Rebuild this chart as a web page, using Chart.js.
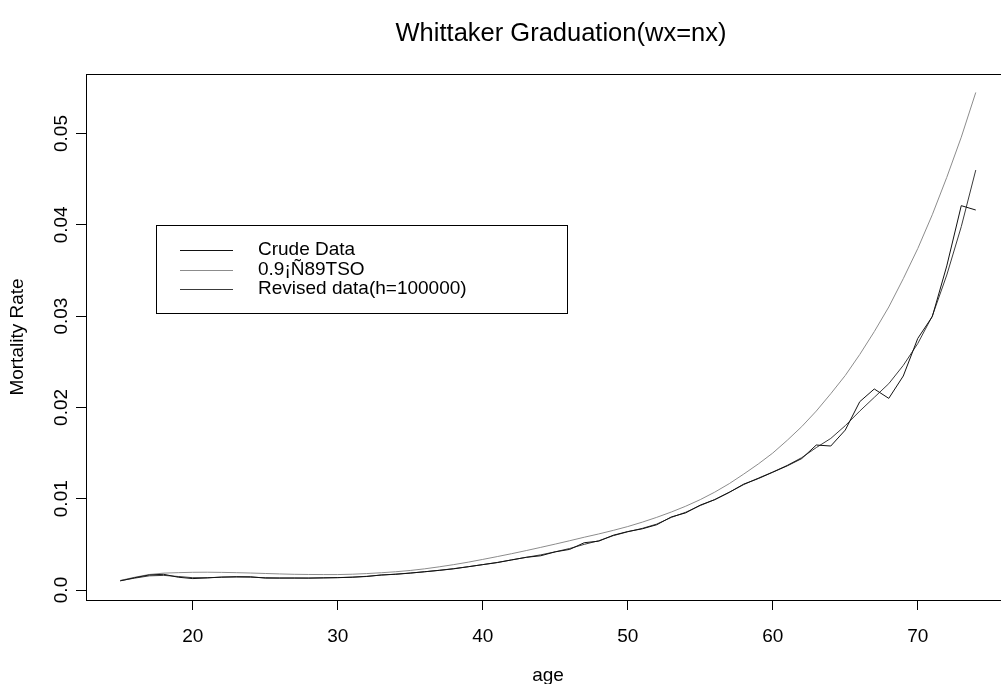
<!DOCTYPE html>
<html>
<head>
<meta charset="utf-8">
<title>Whittaker Graduation</title>
<script src="https://cdn.jsdelivr.net/npm/chart.js@4/dist/chart.umd.min.js"></script>
<style>
  html, body { margin: 0; padding: 0; background: #fff; overflow: hidden; width: 1001px; height: 684px; }
  canvas { display: block; }
</style>
</head>
<body>
<canvas id="chart" width="1011" height="684" style="width:1011px;height:684px"></canvas>
<script>
// Ages 15..74 and the three mortality series
const ages = [15,16,17,18,19,20,21,22,23,24,25,26,27,28,29,30,31,32,33,34,35,36,37,38,39,40,41,42,43,44,
              45,46,47,48,49,50,51,52,53,54,55,56,57,58,59,60,61,62,63,64,65,66,67,68,69,70,71,72,73,74];

const crudeRates = [0.00100,0.00135,0.00165,0.00172,0.00140,0.00125,0.00132,0.00142,0.00146,0.00145,
                    0.00130,0.00130,0.00131,0.00130,0.00133,0.00135,0.00140,0.00148,0.00165,0.00172,
                    0.00185,0.00200,0.00215,0.00232,0.00255,0.00278,0.00300,0.00330,0.00358,0.00375,
                    0.00418,0.00445,0.00518,0.00535,0.00600,0.00640,0.00670,0.00715,0.00800,0.00845,
                    0.00930,0.00990,0.01070,0.01160,0.01220,0.01290,0.01360,0.01440,0.01588,0.01577,
                    0.01752,0.02063,0.02202,0.02099,0.02344,0.02756,0.02994,0.03550,0.04210,0.04162];

const tsoRates = [0.00105,0.00140,0.00170,0.00185,0.00190,0.00194,0.00195,0.00193,0.00190,0.00186,
                  0.00181,0.00176,0.00172,0.00170,0.00169,0.00169,0.00173,0.00180,0.00189,0.00200,
                  0.00214,0.00232,0.00254,0.00278,0.00305,0.00335,0.00366,0.00398,0.00432,0.00467,
                  0.00503,0.00540,0.00578,0.00614,0.00653,0.00695,0.00743,0.00796,0.00854,0.00918,
                  0.00990,0.01072,0.01165,0.01270,0.01380,0.01500,0.01640,0.01790,0.01960,0.02150,
                  0.02350,0.02580,0.02830,0.03100,0.03410,0.03740,0.04110,0.04520,0.04960,0.05450];

const revisedRates = [0.00102,0.00130,0.00155,0.00160,0.00148,0.00135,0.00135,0.00140,0.00142,0.00140,
                      0.00135,0.00132,0.00131,0.00131,0.00133,0.00136,0.00141,0.00150,0.00163,0.00174,
                      0.00186,0.00200,0.00216,0.00234,0.00255,0.00278,0.00302,0.00330,0.00358,0.00385,
                      0.00418,0.00455,0.00500,0.00540,0.00595,0.00638,0.00675,0.00722,0.00795,0.00852,
                      0.00925,0.00990,0.01070,0.01155,0.01225,0.01292,0.01365,0.01450,0.01560,0.01660,
                      0.01800,0.01960,0.02110,0.02260,0.02460,0.02700,0.03000,0.03450,0.03980,0.04600];

const xTicks = [20, 30, 40, 50, 60, 70];
const xTickLabels = ["20", "30", "40", "50", "60", "70"];
const yTicks = [0, 0.01, 0.02, 0.03, 0.04, 0.05];
const yTickLabels = ["0.0", "0.01", "0.02", "0.03", "0.04", "0.05"];

const seriesNames = ["Crude Data", "0.9\u00A1\u00D189TSO", "Revised data(h=100000)"];
const seriesColors = ["#111111", "#8c8c8c", "#3a3a3a"];

const titleText = "Whittaker Graduation(wx=nx)";
const xTitle = "age";
const yTitle = "Mortality Rate";

const FONT = '"Liberation Sans", Arial, Helvetica, sans-serif';

function toPoints(values) {
  return ages.map((a, i) => ({ x: a, y: values[i] }));
}

// Frame, rotated y labels, axis titles, title and legend box in base-graphics style
const decorations = {
  id: 'decorations',
  afterDraw(chart) {
    const { ctx, chartArea: a, scales: { x, y } } = chart;
    ctx.save();
    ctx.strokeStyle = '#000';
    ctx.lineWidth = 1;
    ctx.strokeRect(Math.round(a.left) + 0.5, Math.round(a.top) + 0.5,
                   Math.round(a.right - a.left), Math.round(a.bottom - a.top));

    ctx.fillStyle = '#000';
    ctx.font = `19px ${FONT}`;
    ctx.textAlign = 'center';
    ctx.textBaseline = 'middle';
    xTicks.forEach((v, i) => ctx.fillText(xTickLabels[i], x.getPixelForValue(v), a.bottom + 37));
    yTicks.forEach((v, i) => {
      ctx.save();
      ctx.translate(a.left - 24, y.getPixelForValue(v));
      ctx.rotate(-Math.PI / 2);
      ctx.fillText(yTickLabels[i], 0, 0);
      ctx.restore();
    });

    // axis titles
    ctx.fillText(xTitle, (a.left + a.right) / 2, a.bottom + 76);
    ctx.save();
    ctx.translate(18, (a.top + a.bottom) / 2);
    ctx.rotate(-Math.PI / 2);
    ctx.fillText(yTitle, 0, 0);
    ctx.restore();

    // main title
    ctx.font = `25.5px ${FONT}`;
    ctx.fillText(titleText, 561, 34);

    // legend
    const lx = a.left + 70, ly = a.top + 151, lw = 411, lh = 88;
    ctx.strokeRect(lx + 0.5, ly + 0.5, lw, lh);
    ctx.font = `19px ${FONT}`;
    ctx.textAlign = 'left';
    chart.data.datasets.forEach((ds, i) => {
      const ry = ly + 25 + i * 19.5;
      ctx.strokeStyle = ds.borderColor;
      ctx.lineWidth = 1;
      ctx.beginPath();
      ctx.moveTo(lx + 24, Math.round(ry) + 0.5);
      ctx.lineTo(lx + 77, Math.round(ry) + 0.5);
      ctx.stroke();
      ctx.fillText(ds.label, lx + 102, ry);
    });
    ctx.restore();
  }
};

new Chart(document.getElementById('chart'), {
  type: 'line',
  data: {
    datasets: [
      { label: seriesNames[0], data: toPoints(crudeRates), borderColor: seriesColors[0] },
      { label: seriesNames[1], data: toPoints(tsoRates), borderColor: seriesColors[1] },
      { label: seriesNames[2], data: toPoints(revisedRates), borderColor: seriesColors[2] }
    ]
  },
  options: {
    responsive: false,
    animation: false,
    devicePixelRatio: 1,
    layout: { padding: { left: 0, top: 74, right: 1, bottom: 0 } },
    elements: {
      point: { radius: 0 },
      line: { borderWidth: 1, tension: 0, fill: false }
    },
    plugins: { legend: { display: false }, title: { display: false }, tooltip: { enabled: false } },
    scales: {
      x: {
        type: 'linear',
        min: 12.64, max: 76.36,
        afterBuildTicks(scale) { scale.ticks = xTicks.map(v => ({ value: v })); },
        afterFit(scale) { scale.height = 84; },
        ticks: { display: false },
        grid: { drawOnChartArea: false, drawTicks: true, tickLength: 10, color: '#000', lineWidth: 1 },
        border: { display: false }
      },
      y: {
        type: 'linear',
        min: -0.001095, max: 0.05652,
        afterBuildTicks(scale) { scale.ticks = yTicks.map(v => ({ value: v })); },
        afterFit(scale) { scale.width = 86; },
        ticks: { display: false },
        grid: { drawOnChartArea: false, drawTicks: true, tickLength: 10, color: '#000', lineWidth: 1 },
        border: { display: false }
      }
    }
  },
  plugins: [decorations]
});
</script>
</body>
</html>
